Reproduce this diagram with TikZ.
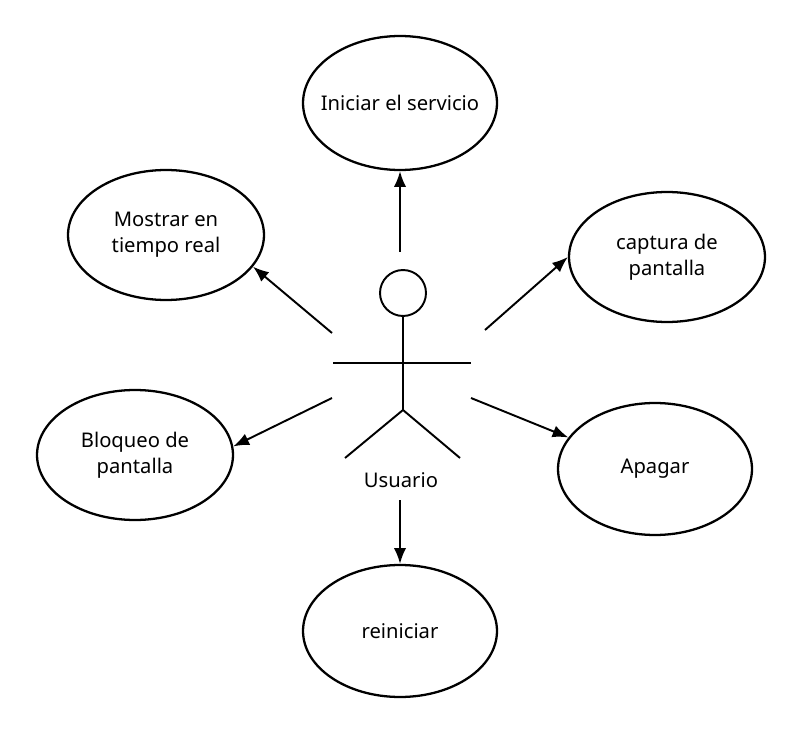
\documentclass[tikz,border=0pt]{standalone}
\usepackage{fontspec}
\setmainfont{Noto Sans}
\usetikzlibrary{arrows.meta,calc,positioning,shapes.geometric}

\begin{document}
\begin{tikzpicture}[
    x=0.02cm, y=-0.02cm,
    >=Latex,
    usecase/.style={draw,ellipse,line width=1.3pt,align=center,font=\fontsize{11.5}{15}\selectfont,inner sep=-20pt},
    link/.style={line width=1.1pt,->,>={Latex[length=9pt,width=7pt]}},
    body/.style={line width=1.1pt}
]
\useasboundingbox (0,0) rectangle (801,733);

% --- Use cases ---
\node[usecase,minimum width=3.88cm,minimum height=2.68cm] (Ini) at (400,103) {Iniciar el servicio};
\node[usecase,minimum width=3.92cm,minimum height=2.6cm] (Mos) at (166,235) {Mostrar en\\tiempo real};
\node[usecase,minimum width=3.92cm,minimum height=2.6cm] (Cap) at (667,257) {captura de\\pantalla};
\node[usecase,minimum width=3.92cm,minimum height=2.6cm] (Blo) at (135,455) {Bloqueo de\\pantalla};
\node[usecase,minimum width=3.88cm,minimum height=2.64cm] (Apa) at (655,469) {Apagar};
\node[usecase,minimum width=3.88cm,minimum height=2.64cm] (Rei) at (400,631) {reiniciar};

% --- Actor ---
\node[draw,circle,line width=1.1pt,minimum size=0.92cm,inner sep=0pt] (Head) at (403,293) {};
\coordinate (Hip) at (403,410);
\draw[body] (Head.south) -- (Hip);
\draw[body] (333,363) -- (471,363);
\draw[body] (345,458) -- (Hip) -- (460,458);
\node[font=\fontsize{11.5}{15}\selectfont] (Usr) at (401,480) {Usuario};

% --- Connectors ---
\coordinate (aN)  at (400,252);
\coordinate (aNW) at (332,333);
\coordinate (aNE) at (485,330);
\coordinate (aW)  at (332,398);
\coordinate (aE)  at (471,398);
\coordinate (aS)  at (400,500);
\draw[link] (aN) -- (Ini);
\draw[link] (aNW) -- (Mos.-20);
\draw[link] (aNE) -- (Cap.west);
\draw[link] (aW) -- (Blo.5);
\draw[link] (aE) -- (Apa.160);
\draw[link] (aS) -- (Rei);
\end{tikzpicture}
\end{document}
